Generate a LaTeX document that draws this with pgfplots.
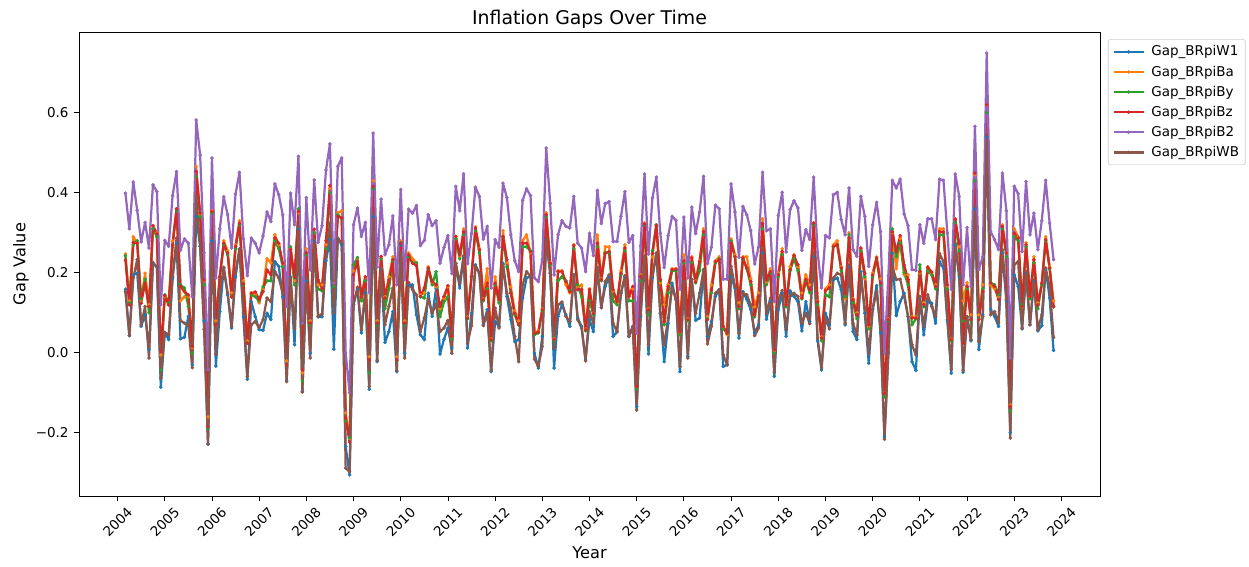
\documentclass[border=0pt]{standalone}
\usepackage{pgfplots}
\usepackage{pgfplotstable}
\usepackage{fontspec}
\setmainfont{DejaVu Sans}
\pgfplotsset{compat=1.18}
\definecolor{tabblue}{HTML}{1F77B4}
\definecolor{taborange}{HTML}{FF7F0E}
\definecolor{tabgreen}{HTML}{2CA02C}
\definecolor{tabred}{HTML}{D62728}
\definecolor{tabpurple}{HTML}{9467BD}
\definecolor{tabbrown}{HTML}{8C564B}
% columns: W1 Ba By Bz B2 WB, monthly from March 2004
\pgfplotstableread{
w1 ba by bz b2 wb
.159 .247 .243 .232 .399 .153
.043 .130 .125 .120 .310 .043
.195 .290 .270 .276 .427 .187
.199 .275 .280 .274 .356 .233
.066 .130 .135 .124 .277 .070
.095 .199 .184 .174 .326 .116
.008 .120 .100 .116 .262 -.013
.224 .315 .310 .318 .420 .226
.214 .300 .290 .298 .403 .214
-.086 -.005 -.043 .003 .120 -.063
.051 .140 .145 .143 .281 .051
.033 .120 .125 .120 .266 .045
.187 .280 .270 .270 .393 .191
.274 .360 .355 .360 .453 .287
.035 .130 .170 .166 .256 .081
.039 .140 .162 .153 .285 .074
.091 .140 .116 .145 .274 .068
-.030 .013 -.001 .016 .140 -.037
.341 .466 .440 .453 .582 .391
.266 .345 .340 .349 .494 .266
.080 .180 .170 .182 .250 .059
-.228 -.160 -.188 -.184 -.042 -.228
.280 .355 .350 .353 .487 .287
-.033 .080 .070 .070 .187 -.003
.103 .190 .190 .190 .310 .149
.212 .280 .270 .274 .390 .214
.145 .255 .245 .250 .345 .149
.062 .150 .140 .140 .262 .066
.190 .270 .260 .266 .397 .203
.260 .330 .320 .324 .451 .258
.090 .180 .170 .172 .285 .100
-.066 .030 .025 .024 .193 -.059
.128 .150 .145 .149 .287 .070
.091 .145 .140 .152 .274 .078
.058 .125 .130 .134 .250 .063
.056 .160 .165 .153 .292 .083
.099 .235 .180 .207 .352 .137
.083 .225 .180 .195 .328 .128
.228 .295 .280 .287 .422 .203
.216 .270 .260 .274 .395 .187
.140 .220 .215 .224 .345 .149
-.070 -.020 -.030 -.030 .116 -.072
.190 .260 .265 .258 .399 .187
.020 .180 .170 .190 .320 .060
.310 .350 .360 .353 .491 .316
-.097 -.050 -.070 -.042 .074 -.098
.180 .260 .245 .250 .388 .187
-.001 .080 .070 .074 .207 -.013
.280 .300 .300 .309 .432 .283
.090 .170 .160 .182 .276 .091
.090 .170 .155 .160 .318 .097
.230 .270 .260 .280 .457 .241
.283 .410 .400 .418 .522 .324
.009 .175 .165 .174 .174 .100
.285 .350 .345 .341 .466 .287
.270 .355 .335 .337 .487 .274
-.234 -.150 -.170 -.163 .000 -.288
-.305 -.215 -.212 -.223 -.100 -.297
.120 .205 .220 .195 .320 .120
.160 .235 .238 .228 .362 .164
.050 .140 .130 .140 .291 .058
.150 .190 .180 .190 .326 .158
-.091 -.010 -.050 -.018 .150 -.084
.340 .430 .410 .416 .549 .349
-.022 .080 .070 .074 .214 -.018
.210 .240 .235 .241 .384 .212
.026 .140 .110 .137 .245 .070
.053 .190 .160 .182 .270 .116
.103 .240 .230 .233 .342 .162
-.047 -.010 -.020 -.018 .170 -.044
.270 .280 .275 .274 .408 .250
-.001 .080 .070 .074 .183 -.013
.170 .250 .240 .245 .359 .176
.170 .235 .225 .224 .349 .158
.095 .225 .225 .218 .368 .145
.045 .145 .140 .141 .268 .053
.033 .150 .137 .162 .281 .087
.149 .215 .210 .212 .345 .135
.091 .175 .170 .178 .318 .099
.162 .165 .203 .170 .330 .122
-.003 .110 .090 .116 .224 .053
.034 .135 .128 .141 .263 .062
.062 .165 .140 .168 .293 .081
.012 .040 .035 .041 .198 -.001
.224 .290 .285 .291 .416 .224
.162 .240 .235 .245 .355 .174
.240 .310 .295 .303 .447 .243
.012 .090 .085 .087 .223 .024
.099 .190 .190 .191 .298 .068
.220 .315 .305 .312 .414 .216
.199 .260 .250 .258 .391 .199
.070 .135 .130 .133 .284 .068
.108 .210 .160 .174 .316 .099
-.047 .035 .030 .033 .162 -.043
.078 .190 .170 .174 .283 .112
.066 .125 .125 .133 .264 .062
.224 .305 .290 .291 .424 .220
.141 .225 .215 .233 .388 .149
.083 .165 .150 .149 .295 .112
.028 .105 .095 .099 .230 .041
.033 .080 .070 .070 .203 -.022
.137 .280 .265 .274 .381 .170
.187 .295 .265 .274 .410 .203
.191 .250 .255 .253 .393 .191
-.001 .050 .045 .049 .187 -.016
-.038 .055 .050 .052 .178 -.034
.041 .110 .105 .108 .233 .016
.283 .350 .340 .345 .512 .283
.199 .225 .220 .224 .374 .199
-.038 .035 .030 .033 .195 .012
.091 .205 .180 .203 .295 .120
.120 .205 .190 .203 .330 .127
.095 .170 .180 .178 .316 .091
.066 .150 .155 .153 .312 .078
.195 .270 .260 .268 .391 .195
.087 .165 .170 .158 .274 .083
.066 .170 .140 .158 .262 .062
-.018 .060 .055 .058 .203 -.020
.083 .160 .130 .158 .299 .103
.053 .100 .095 .099 .243 .074
.213 .295 .265 .274 .406 .213
.113 .185 .180 .183 .323 .113
.166 .265 .250 .249 .373 .178
.190 .265 .250 .253 .378 .195
.041 .155 .130 .158 .278 .074
.052 .125 .120 .128 .278 .053
.149 .205 .195 .199 .341 .149
.190 .270 .255 .262 .403 .193
.041 .140 .130 .141 .276 .041
.066 .160 .130 .166 .293 .066
-.134 -.085 -.090 -.084 .049 -.143
.091 .195 .180 .191 .268 .095
.241 .325 .320 .322 .447 .241
-.003 .110 .095 .108 .247 .020
.187 .240 .255 .249 .387 .191
.249 .320 .320 .318 .439 .249
.099 .175 .180 .183 .299 .099
-.022 .120 .070 .078 .213 .020
.073 .170 .150 .166 .293 .087
.174 .210 .205 .208 .341 .162
.133 .210 .205 .209 .331 .133
-.047 .050 .045 .053 .159 -.034
.178 .245 .225 .230 .339 .178
-.009 .085 .080 .083 .187 -.013
.183 .240 .225 .237 .364 .183
.081 .180 .175 .178 .298 .099
.087 .230 .205 .228 .352 .149
.208 .310 .295 .303 .441 .208
.041 .090 .085 .083 .223 .022
.078 .170 .150 .158 .264 .066
.141 .230 .225 .228 .369 .149
.158 .240 .235 .233 .360 .158
-.034 .065 .060 .066 .184 -.005
-.030 .045 .050 .049 .184 -.030
.190 .285 .280 .274 .422 .216
.162 .245 .240 .240 .352 .166
.037 .125 .110 .116 .239 .049
.153 .240 .235 .237 .366 .149
.133 .240 .210 .212 .345 .145
.108 .185 .170 .178 .305 .120
.050 .115 .090 .095 .222 .043
.070 .150 .140 .141 .264 .062
.250 .335 .310 .323 .451 .262
.084 .175 .170 .183 .305 .099
.130 .210 .200 .203 .310 .137
-.059 .005 .000 .008 .128 -.049
.108 .200 .190 .195 .343 .133
.150 .260 .245 .253 .401 .156
.041 .120 .115 .120 .252 .058
.155 .215 .205 .208 .358 .141
.141 .245 .235 .243 .380 .149
.128 .215 .205 .220 .362 .141
.055 .150 .135 .137 .256 .074
.128 .195 .180 .183 .308 .099
.078 .170 .150 .158 .283 .073
.240 .325 .320 .324 .439 .249
.030 .130 .120 .128 .252 .037
-.043 .040 .030 .037 .162 -.038
.099 .160 .145 .156 .293 .087
.070 .170 .140 .162 .287 .060
.183 .270 .265 .266 .395 .187
.187 .280 .270 .270 .401 .199
.158 .215 .205 .212 .333 .195
.070 .135 .140 .149 .295 .074
.215 .300 .295 .287 .412 .220
.053 .135 .125 .133 .258 .074
.033 .100 .085 .095 .241 .045
.203 .260 .255 .262 .391 .187
.099 .185 .190 .199 .341 .112
-.026 .065 .060 .070 .216 -.001
.110 .200 .190 .195 .320 .108
.168 .240 .235 .237 .376 .153
.050 .185 .170 .174 .303 .062
-.210 -.100 -.110 -.101 -.001 -.216
.000 .085 .080 .083 .193 -.001
.249 .300 .310 .302 .431 .216
.093 .210 .240 .253 .412 .183
.128 .285 .275 .293 .434 .184
.149 .195 .200 .220 .347 .141
.090 .195 .170 .183 .318 .091
-.022 .090 .070 .087 .208 .020
-.044 .090 .085 .087 .206 -.005
.140 .200 .220 .203 .320 .141
.045 .125 .115 .120 .274 .066
.128 .215 .205 .214 .335 .145
.124 .200 .195 .202 .335 .116
.074 .170 .160 .166 .283 .091
.228 .310 .295 .303 .434 .248
.212 .310 .295 .302 .431 .228
.080 .165 .160 .170 .299 .083
-.051 .035 .030 .033 .158 -.041
.270 .335 .325 .334 .447 .274
.190 .265 .255 .274 .391 .195
-.048 .130 .080 .024 .170 -.043
.090 .175 .160 .166 .313 .091
.030 .095 .080 .083 .166 .033
.360 .445 .430 .449 .566 .366
.008 .095 .085 .083 .208 .028
.095 .170 .160 .153 .240 .091
.540 .620 .600 .620 .749 .545
.109 .170 .175 .174 .303 .095
.091 .160 .170 .166 .283 .103
.066 .140 .145 .133 .258 .076
.250 .320 .310 .316 .449 .258
.130 .250 .240 .249 .355 .133
-.199 -.130 -.145 -.134 -.013 -.213
.195 .310 .290 .299 .416 .220
.166 .290 .280 .287 .398 .228
.060 .115 .120 .116 .253 .062
.200 .275 .265 .270 .428 .203
.070 .140 .135 .141 .295 .070
.180 .240 .225 .233 .349 .183
.055 .125 .110 .120 .258 .058
.068 .170 .170 .174 .330 .095
.210 .290 .280 .283 .431 .212
.137 .215 .210 .212 .324 .166
.006 .130 .115 .116 .233 .038
}\gapdata
\newcommand{\gapplot}[2]{\addplot[#1,line width=1.6bp,line join=round,mark=*,mark size=1.2bp,mark options={solid,fill=#1,draw=#1,line width=0.2bp}] table[x expr={2004+(\coordindex+2)/12},y=#2] {\gapdata};}
\begin{document}
\begin{tikzpicture}[x=1bp,y=1bp]
\path[use as bounding box] (-56.88bp,-51.12bp) rectangle (842.4bp,357.12bp);
\begin{axis}[
  scale only axis,
  width=735.12bp,
  height=334.08bp,
  at={(0,0)},
  xmin=2003.183,xmax=2024.817,
  ymin=-0.3577,ymax=0.8017,
  axis line style={line width=0.6bp},
  tick style={line width=0.6bp,black},
  tick align=outside,
  tick pos=left,
  major tick length=3.5bp,
  xtick={2004,2005,2006,2007,2008,2009,2010,2011,2012,2013,2014,2015,2016,2017,2018,2019,2020,2021,2022,2023,2024},
  xticklabels={2004,2005,2006,2007,2008,2009,2010,2011,2012,2013,2014,2015,2016,2017,2018,2019,2020,2021,2022,2023,2024},
  ytick={-0.2,0,0.2,0.4,0.6},
  yticklabels={−0.2,0.0,0.2,0.4,0.6},
  tick label style={font=\fontsize{9.75}{12}\selectfont},
  xticklabel style={yshift=-15bp,anchor=center,rotate=45},
  yticklabel style={xshift=-0.5bp},
  title={Inflation Gaps Over Time},
  title style={font=\fontsize{13.65}{16}\selectfont,at={(rel axis cs:0.5,1)},anchor=center,yshift=3.4bp},
  xlabel={Year},
  xlabel style={font=\fontsize{11.7}{14}\selectfont,at={(rel axis cs:0.5,0)},anchor=center,yshift=-41bp},
  ylabel={Gap Value},
  ylabel style={font=\fontsize{11.7}{14}\selectfont,at={(rel axis cs:0,0.5)},anchor=center,yshift=41.8bp},
  legend style={at={(rel axis cs:1.0078,0.9845)},anchor=north west,draw=black!20,rounded corners=1.5bp,font=\fontsize{9.75}{12}\selectfont,row sep=2.6bp,inner sep=3bp,nodes={inner sep=1.5bp}},
  legend cell align=left,
  legend image code/.code={\draw[mark repeat=2,mark phase=2,#1] plot coordinates {(0bp,0bp)(10.8bp,0bp)(21.6bp,0bp)};\path (25bp,0bp);},
]
\gapplot{tabblue}{w1}
\gapplot{taborange}{ba}
\gapplot{tabgreen}{by}
\gapplot{tabred}{bz}
\gapplot{tabpurple}{b2}
\gapplot{tabbrown}{wb}
\legend{Gap\_BRpiW1,Gap\_BRpiBa,Gap\_BRpiBy,Gap\_BRpiBz,Gap\_BRpiB2,Gap\_BRpiWB}
\end{axis}
\end{tikzpicture}
\end{document}
